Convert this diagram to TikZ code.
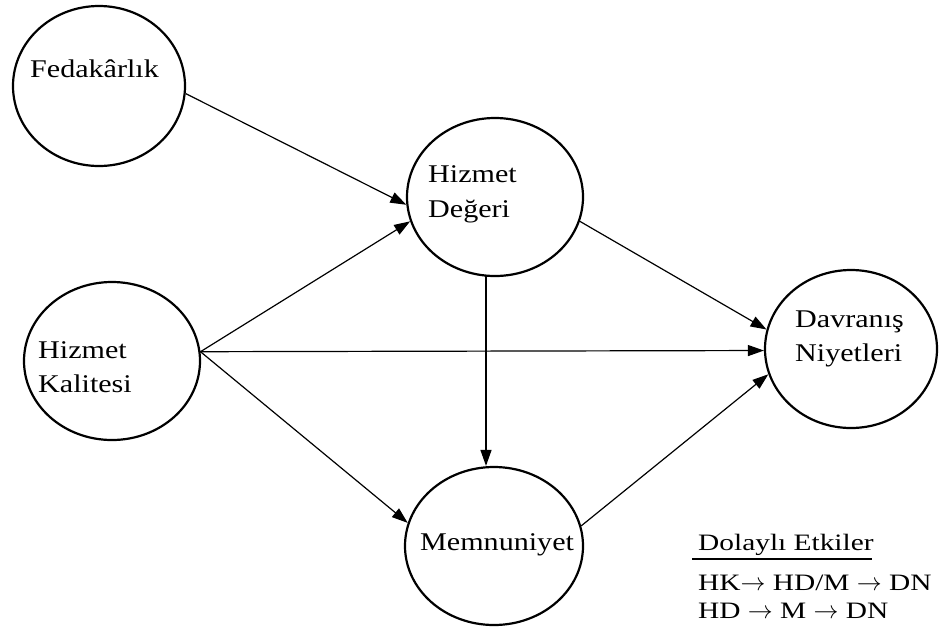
\documentclass[tikz,border=0pt]{standalone}
\usepackage{fontspec}
\setmainfont{Liberation Serif}[FakeStretch=1.18]
\newfontfamily\legendfont{Liberation Serif}[FakeStretch=1.25]
\usetikzlibrary{shapes.geometric,arrows.meta}
\begin{document}
\begin{tikzpicture}[x=1pt,y=-1pt,
  construct/.style={draw,ellipse,line width=2.2pt,inner sep=0pt},
  label/.style={anchor=base west,inner sep=0pt,font=\fontsize{25.5}{30}\selectfont},
  legend/.style={anchor=base west,inner sep=0pt,text height=16pt,text depth=4pt,
    font=\legendfont\fontsize{23.5}{28}\selectfont},
  link/.style={line width=1.2pt,-{Triangle[length=16pt,width=11pt]}}]
\useasboundingbox (0,0) rectangle (940,630);

% constructs
\node[construct,minimum width=172pt,minimum height=160pt] (fed) at (99,86) {};
\node[construct,minimum width=176pt,minimum height=158pt] (hd)  at (495,197) {};
\node[construct,minimum width=176pt,minimum height=158pt] (hk)  at (112,361) {};
\node[construct,minimum width=172pt,minimum height=158pt] (dn)  at (851,349) {};
\node[construct,minimum width=178pt,minimum height=158pt] (mem) at (494,546) {};

% construct names
\node[label] (tfed)  at (30,77)   {Fedakârlık};
\node[label] (thd1)  at (428,182) {Hizmet};
\node[label] (thd2)  at (428,217) {Değeri};
\node[label] (thk1)  at (38,358)  {Hizmet};
\node[label] (thk2)  at (38,392)  {Kalitesi};
\node[label] (tdn1)  at (795,327) {Davranış};
\node[label] (tdn2)  at (795,361) {Niyetleri};
\node[label] (tmem)  at (420,550) {Memnuniyet};

% paths
\draw[link] (fed.-5) -- (hd.185);
\draw[link] (hk.6) -- (hd.196);
\draw[link] (hk.6) -- (dn.181);
\draw[link] (hk.6) -- (mem.165.5);
\coordinate (hdbot) at (486,276);
\draw[link] (hdbot) -- (hdbot |- mem.north);
\draw[link] (hd.-16) -- (dn.167);
\draw[link] (mem.13) -- (dn.197);

% indirect effects
\node[legend] (lgtitle) at (698,550) {Dolaylı Etkiler};
\coordinate (ulA) at (692,559);
\coordinate (ulB) at (872,559);
\draw[line width=1.2pt] (ulA) -- (ulB);
\node[legend] (lg1) at (698,590) {HK$\rightarrow$ HD/M $\rightarrow$ DN};
\node[legend] (lg2) at (698,618) {HD $\rightarrow$ M $\rightarrow$ DN};
\end{tikzpicture}
\end{document}
